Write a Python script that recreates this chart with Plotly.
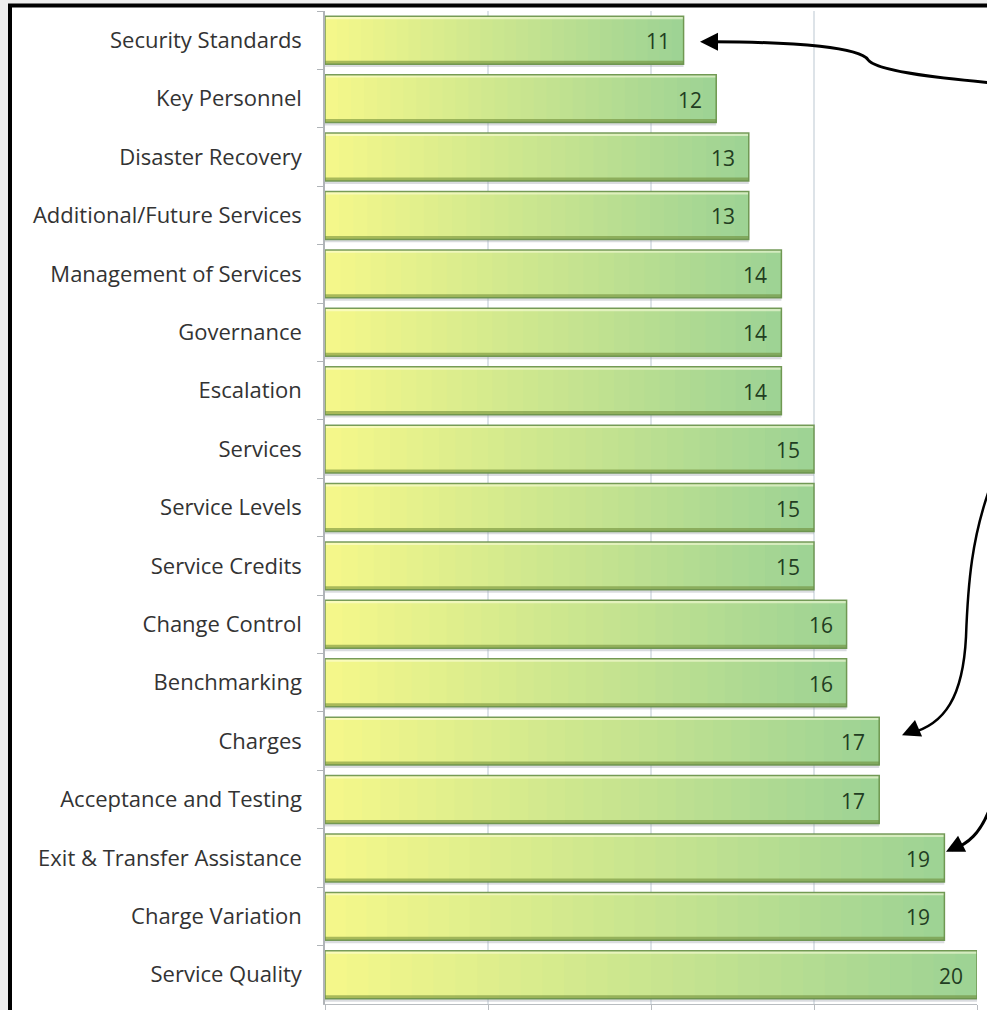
import plotly.graph_objects as go

categories = ["Security Standards", "Key Personnel", "Disaster Recovery", "Additional/Future Services",
              "Management of Services", "Governance", "Escalation", "Services", "Service Levels",
              "Service Credits", "Change Control", "Benchmarking", "Charges", "Acceptance and Testing",
              "Exit & Transfer Assistance", "Charge Variation", "Service Quality"]
values = [11, 12, 13, 13, 14, 14, 14, 15, 15, 15, 16, 16, 17, 17, 19, 19, 20]
x_ticks = [0, 5, 10, 15, 20]

W, H = 987, 1010
ML, MR, MT, MB = 325, 10, 11, 1
PW, PH = W - ML - MR, H - MT - MB

def fx(px):
    return (px - ML) / PW

def fy(py):
    return (H - MB - py) / PH

def P(px, py):
    return f"{fx(px):.5f},{fy(py):.5f}"

YEL = (244, 247, 138)
GRN = (158, 211, 148)

def mix(t):
    c = [round(YEL[i] + (GRN[i] - YEL[i]) * t) for i in range(3)]
    return f"rgb({c[0]},{c[1]},{c[2]})"

fig = go.Figure()
N = 30
BW = 0.82
OFF = -0.41
for k in range(N):
    # each layer spans from its start to the bar end, so there are no seams
    fig.add_trace(go.Bar(
        y=categories, x=[v * (N - k) / N for v in values], base=[v * k / N for v in values],
        orientation="h", width=BW, offset=OFF,
        marker=dict(color=mix(k / (N - 1)), line=dict(width=0)),
        hoverinfo="skip", showlegend=False))

# top highlight
fig.add_trace(go.Bar(y=categories, x=values, orientation="h", width=0.05, offset=OFF,
                     marker=dict(color="rgba(255,255,225,0.55)", line=dict(width=0)),
                     hoverinfo="skip", showlegend=False))
# bottom darker edge
fig.add_trace(go.Bar(y=categories, x=values, orientation="h", width=0.06, offset=OFF + BW - 0.06,
                     marker=dict(color="rgba(105,135,50,0.55)", line=dict(width=0)),
                     hoverinfo="skip", showlegend=False))
# soft shadow beneath
fig.add_trace(go.Bar(y=categories, x=values, orientation="h", width=0.05, offset=OFF + BW,
                     marker=dict(color="rgba(150,155,165,0.35)", line=dict(width=0)),
                     hoverinfo="skip", showlegend=False))
# outline
fig.add_trace(go.Bar(y=categories, x=values, orientation="h", width=BW, offset=OFF,
                     marker=dict(color="rgba(0,0,0,0)", line=dict(color="rgba(105,145,75,0.9)", width=1.5)),
                     hoverinfo="skip", showlegend=False))

annotations = []
for c, v in zip(categories, values):
    annotations.append(dict(x=v, y=c, xref="x", yref="y", text=str(v), showarrow=False,
                            xanchor="right", xshift=-12, yshift=-1,
                            font=dict(family="Open Sans", size=21, color="#223d22")))

# arrow heads
for tip, ax, ay in [((700, 42), 14, 0), ((902, 739), 14, -6), ((946, 856), 14, -7)]:
    annotations.append(dict(x=fx(tip[0]), y=fy(tip[1]), xref="paper", yref="paper", text="",
                            showarrow=True, ax=ax, ay=ay, arrowhead=2, arrowsize=1.2,
                            arrowwidth=3, arrowcolor="black"))

shapes = [
    dict(type="rect", xref="paper", yref="paper", x0=fx(10), x1=fx(1010), y0=fy(1040), y1=fy(5.5),
         fillcolor="white", line=dict(color="black", width=4), layer="below"),
    dict(type="path", xref="paper", yref="paper", layer="above",
         path=f"M {P(712,42)} C {P(800,42)} {P(860,48)} {P(868,60)} C {P(875,70)} {P(930,78)} {P(990,83)}",
         line=dict(color="black", width=3)),
    dict(type="path", xref="paper", yref="paper", layer="above",
         path=f"M {P(990,490)} C {P(972,540)} {P(968,585)} {P(966,640)} C {P(963,700)} {P(945,728)} {P(910,737)}",
         line=dict(color="black", width=2.5)),
    dict(type="path", xref="paper", yref="paper", layer="above",
         path=f"M {P(990,812)} C {P(980,838)} {P(968,848)} {P(952,854)}",
         line=dict(color="black", width=3)),
]

fig.update_layout(
    width=W, height=H, margin=dict(l=ML, r=MR, t=MT, b=MB, pad=0),
    barmode="overlay", bargap=0.18,
    paper_bgcolor="#eeeeee", plot_bgcolor="rgba(0,0,0,0)",
    annotations=annotations, shapes=shapes, showlegend=False,
    xaxis=dict(range=[0, 20], tickvals=x_ticks, showticklabels=False, showgrid=True,
               gridcolor="#dde3e8", gridwidth=1.5, zeroline=False, showline=True,
               linecolor="#b8bcc0", linewidth=1, ticks="outside", ticklen=5, tickcolor="#b8bcc0"),
    yaxis=dict(categoryorder="array", categoryarray=categories, autorange="reversed",
               showgrid=False, zeroline=False, showline=True, linecolor="#b0b4b8", linewidth=1.5,
               ticks="outside", tickson="boundaries", ticklen=6, tickcolor="#b0b4b8",
               ticklabelstandoff=17,
               tickfont=dict(family="Open Sans", size=22, color="#333333")),
)

fig.write_html("out.html")
